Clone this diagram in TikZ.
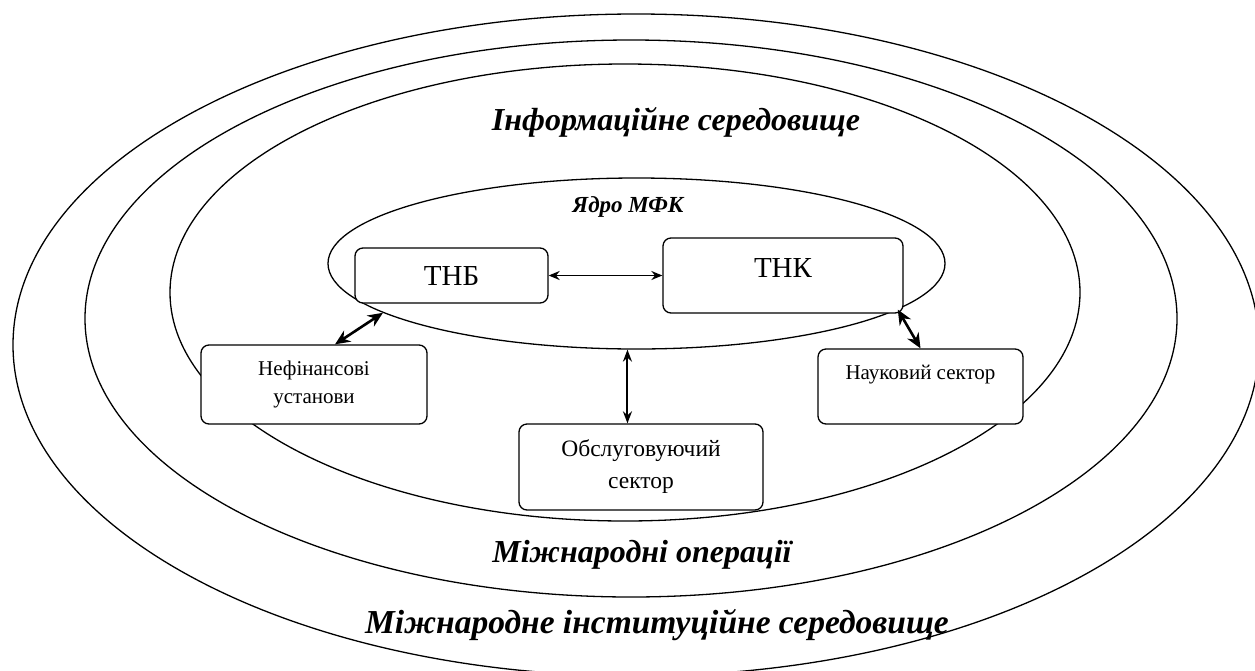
\documentclass[tikz,border=0pt]{standalone}
\usepackage{fontspec}
\setmainfont{Liberation Serif}
\usetikzlibrary{shapes.geometric,arrows.meta}
\begin{document}
\begin{tikzpicture}[x=1pt,y=-1pt,
  ring/.style={draw=black, line width=1.3pt},
  box/.style={draw=black, fill=white, rounded corners=8pt, line width=1.3pt, inner sep=0pt, align=center},
  bigtext/.style={font=\fontsize{29}{35}\selectfont},
  smalltext/.style={font=\fontsize{21}{28}\selectfont},
  title/.style={font=\fontsize{32}{38}\selectfont\bfseries\itshape, anchor=base, inner sep=0pt},
  arrA/.style={{Stealth[length=11pt,width=9pt]}-{Stealth[length=11pt,width=9pt]}, line width=1.6pt},
  arrB/.style={{Stealth[length=15pt,width=13pt]}-{Stealth[length=15pt,width=13pt]}, line width=2.6pt},
  arrC/.style={{Stealth[length=12pt,width=9pt]}-{Stealth[length=12pt,width=9pt]}, line width=2pt}
]
\useasboundingbox (0,0) rectangle (1255,670);
\fill[white] (0,0) rectangle (1255,670);
\begin{scope}
\clip (0,0) rectangle (1255,670);
\draw[ring] (636,345) ellipse [x radius=623pt, y radius=331pt];
\draw[ring] (631,318.5) ellipse [x radius=546pt, y radius=278.5pt];
\draw[ring] (625,292.5) ellipse [x radius=455pt, y radius=228.5pt];
\end{scope}

\node[draw=black, line width=1.3pt, ellipse, inner sep=0pt, minimum width=617pt, minimum height=171pt] (core) at (636.5,263.5) {};

\node[title] (info) at (676,130) {Інформаційне середовище};
\node[title] (ops) at (642,562) {Міжнародні операції};
\node[title, font=\fontsize{33.5}{40}\selectfont\bfseries\itshape] (inst) at (657,633) {Міжнародне інституційне середовище};
\node[font=\fontsize{23}{27}\selectfont\bfseries\itshape, anchor=base, inner sep=0pt] (corelabel) at (628,212) {Ядро МФК};

\node[box, bigtext, minimum width=193pt, minimum height=55pt] (tnb) at (451.5,275.5) {ТНБ};
\node[box, bigtext, minimum width=240pt, minimum height=75pt, text height=20pt, text depth=16pt] (tnk) at (783,275.5) {ТНК};
\node[box, smalltext, minimum width=226pt, minimum height=79pt] (nef) at (314,384.5) {Нефінансові\\установи};
\node[box, smalltext, minimum width=205pt, minimum height=75pt] (nau) at (920.5,386.5) {Науковий сектор\\\mbox{}};
\node[box, font=\fontsize{23.5}{32}\selectfont, minimum width=244pt, minimum height=86pt] (obs) at (641,467) {Обслуговуючий\\сектор};

\draw[arrA] (tnb.east) -- (tnk.west);
\draw[arrB] ([xshift=21pt]nef.north) -- (core.-169.8);
\draw[arrB] (nau.north) -- (core.-10.8);
\draw[arrC] (core.-96) -- (core.-96 |- obs.north);
\end{tikzpicture}
\end{document}
